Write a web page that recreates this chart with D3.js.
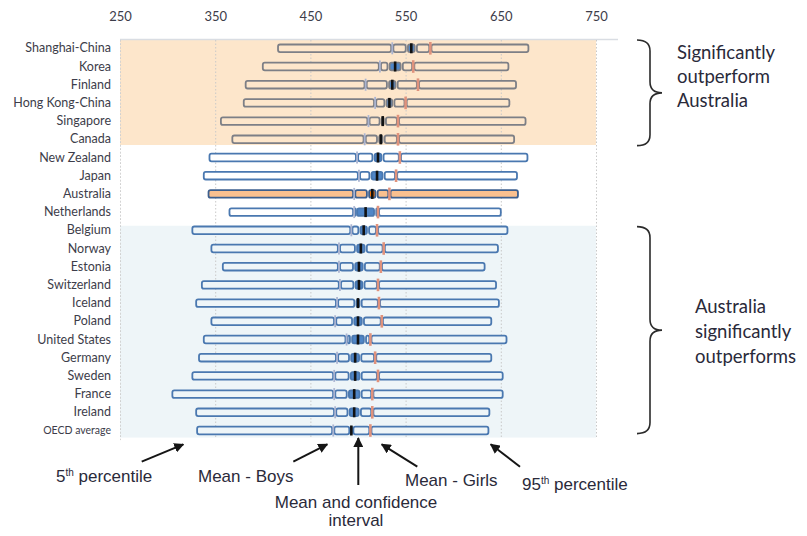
<!DOCTYPE html>
<html>
<head>
<meta charset="utf-8">
<script src="https://cdn.jsdelivr.net/npm/d3@7"></script>
<style>
  html, body { margin: 0; padding: 0; background: #ffffff; }
  svg { display: block; }
</style>
</head>
<body>
<svg id="chart" width="807" height="536"></svg>
<script>
// ---------------- DATA ----------------
const countries = ["Shanghai-China","Korea","Finland","Hong Kong-China","Singapore","Canada",
  "New Zealand","Japan","Australia","Netherlands","Belgium","Norway","Estonia","Switzerland",
  "Iceland","Poland","United States","Germany","Sweden","France","Ireland","OECD average"];
const groups = ["above","above","above","above","above","above",
  "similar","similar","similar","similar",
  "below","below","below","below","below","below","below","below","below","below","below","below"];
const meanScore = [556,539,536,533,526,524,521,520,515,508,506,503,501,501,500,500,500,497,497,496,496,493];
const ciHalf    = [4.7,6.9,4.5,4.1,2.2,2.9,4.7,6.9,4.5,10.0,4.5,5.1,5.1,4.7,2.7,5.1,7.3,5.3,5.7,6.7,5.9,1.0];
const meanBoys  = [536,523,508,518,511,507,499,501,496,496,493,480,480,481,478,476,488,478,475,475,476,474];
const meanGirls = [576,558,563,550,542,542,544,540,533,521,520,527,524,521,522,525,513,518,521,515,515,513];
const pct5      = [416,400,382,380,356,368,344,338,343,365,326,346,358,336,330,346,338,333,326,305,330,331];
const pct95     = [679,658,666,659,676,664,678,667,668,650,657,647,633,645,648,640,656,640,652,652,638,637];
const tickValues = [250,350,450,550,650,750];
const bracketLabels = [
  { lines: ["Significantly","outperform","Australia"], from: "Shanghai-China", to: "Canada" },
  { lines: ["Australia","significantly","outperforms"], from: "Belgium", to: "OECD average" }
];
const annotations = [
  { parts: [["5",""],["th","sup"],[" percentile",""]], x: 56, y: 482, anchor: "start", ax1: 141.7, ay1: 461.7, ax2: 183.3, ay2: 444.3 },
  { parts: [["Mean - Boys",""]], x: 198, y: 482, anchor: "start", ax1: 293.3, ay1: 461.7, ax2: 327.3, ay2: 444.3 },
  { parts: [["Mean and confidence",""]], x: 356, y: 508, anchor: "middle", ax1: 358.3, ay1: 485, ax2: 358.3, ay2: 438 },
  { parts: [["interval",""]], x: 356, y: 526, anchor: "middle" },
  { parts: [["Mean - Girls",""]], x: 405, y: 486, anchor: "start", ax1: 417.3, ay1: 466.7, ax2: 381.7, ay2: 444.3 },
  { parts: [["95",""],["th","sup"],[" percentile",""]], x: 522, y: 490, anchor: "start", ax1: 520, ay1: 466.7, ax2: 490.7, ay2: 444.3 }
];

// ---------------- LAYOUT ----------------
const svg = d3.select("#chart");
const x = d3.scaleLinear().domain([250, 750]).range([120, 596]);
const y = d3.scaleBand().domain(countries).range([39.2, 439.6]).padding(0);
const bw = y.bandwidth();
const cy = c => y(c) + bw / 2;

const rows = countries.map((c, i) => ({
  name: c, group: groups[i], mean: meanScore[i], lo: meanScore[i] - ciHalf[i], hi: meanScore[i] + ciHalf[i],
  boys: meanBoys[i], girls: meanGirls[i], p5: pct5[i], p95: pct95[i]
}));

const bgColor = { above: "#fde6cb", similar: "#ffffff", below: "#eef5f8" };
const strokeColor = { above: "#7d7f86", similar: "#4a78b0", below: "#4a78b0" };

// backgrounds
svg.append("rect").attr("x", x(250)).attr("width", x(750) - x(250))
  .attr("y", y("Shanghai-China") + 0.05).attr("height", y("Canada") + bw * 0.81 - y("Shanghai-China"))
  .attr("fill", bgColor.above);
svg.append("rect").attr("x", x(250)).attr("width", x(750) - x(250))
  .attr("y", y("Belgium") + bw * 0.25).attr("height", y("OECD average") + bw - 2 - (y("Belgium") + bw * 0.25))
  .attr("fill", bgColor.below);

// top line of plot area
svg.append("line").attr("x1", x(250)).attr("x2", 618).attr("y1", 39.5).attr("y2", 39.5)
  .attr("stroke", "#d9dde3").attr("stroke-width", 1.5);

// gridlines
svg.append("g").selectAll("line").data(tickValues).join("line")
  .attr("x1", d => x(d) + 0.5).attr("x2", d => x(d) + 0.5)
  .attr("y1", 40).attr("y2", 439)
  .attr("stroke", "#c9c9c9").attr("stroke-width", 1).attr("stroke-dasharray", "1.5,2");

// top axis
const xAxis = svg.append("g").attr("transform", "translate(0,39)")
  .call(d3.axisTop(x).tickValues(tickValues).tickSize(0).tickPadding(18).tickFormat(d3.format("d")));
xAxis.select(".domain").remove();
xAxis.selectAll("text").attr("font-family", "Lato, 'Open Sans', sans-serif").attr("font-size", 13)
  .attr("fill", "#3d3d4a");

// left axis (category labels)
const yAxis = svg.append("g").attr("transform", "translate(120,0)")
  .call(d3.axisLeft(y).tickSize(0).tickPadding(9));
yAxis.select(".domain").attr("stroke", "#d4d4d4").attr("stroke-dasharray", "1.5,2");
yAxis.selectAll("text").attr("font-family", "Lato, 'Open Sans', sans-serif")
  .attr("font-size", d => d === "OECD average" ? 10.5 : 12.5)
  .attr("fill", "#3d3d4a");

// bars
const barH = 7.6;
const rowG = svg.append("g").selectAll("g").data(rows).join("g");

rowG.each(function (d) {
  const g = d3.select(this);
  const isAus = d.name === "Australia";
  const fill = isAus ? "#fac08f" : bgColor[d.group];
  const stroke = isAus ? "#3d5f8e" : strokeColor[d.group];
  const ciFill = isAus ? "#e8700e" : "#4f86c8";
  const segs = [
    { a: d.p5, b: d.boys, f: fill },
    { a: d.boys, b: d.lo, f: fill },
    { a: d.lo, b: d.hi, f: ciFill },
    { a: d.hi, b: d.girls, f: fill },
    { a: d.girls, b: d.p95, f: fill }
  ];
  const yc = cy(d.name);
  g.selectAll("rect.seg").data(segs).join("rect").attr("class", "seg")
    .attr("x", (s, i) => x(s.a) + (i === 0 ? 0 : 1.1))
    .attr("width", (s, i) => Math.max(0.6, x(s.b) - x(s.a) - (i === 0 ? 0 : 1.1) - (i === segs.length - 1 ? 0 : 1.1)))
    .attr("y", yc - barH / 2).attr("height", barH)
    .attr("rx", 2).attr("ry", 2)
    .attr("fill", s => s.f).attr("stroke", stroke).attr("stroke-width", 1.8);
  // boys marker
  g.append("line").attr("x1", x(d.boys)).attr("x2", x(d.boys))
    .attr("y1", yc - 6).attr("y2", yc + 6)
    .attr("stroke", "#a9b3d0").attr("stroke-width", 1.8);
  // girls marker
  g.append("line").attr("x1", x(d.girls)).attr("x2", x(d.girls))
    .attr("y1", yc - 6.3).attr("y2", yc + 6.3)
    .attr("stroke", "#e0927c").attr("stroke-width", 2.6);
  // mean marker
  g.append("line").attr("x1", x(d.mean)).attr("x2", x(d.mean))
    .attr("y1", yc - 5).attr("y2", yc + 5)
    .attr("stroke", "#111111").attr("stroke-width", 2.6);
});

// braces
function bracePath(x0, xs, xt, y0, y1, ym) {
  const r = 11;
  return `M${x0},${y0} Q${xs},${y0} ${xs},${y0 + r} L${xs},${ym - r} Q${xs},${ym} ${xt},${ym} ` +
         `Q${xs},${ym} ${xs},${ym + r} L${xs},${y1 - r} Q${xs},${y1} ${x0},${y1}`;
}
const braceSpecs = [
  { y0: y("Shanghai-China") + 0.8, y1: y("Canada") + bw * 0.85, tx: 677, base: 58.5, gap: 24.3 },
  { y0: y("Belgium") + bw * 0.3, y1: y("OECD average") + bw - 6, tx: 695, base: 313, gap: 24.8 }
];
bracketLabels.forEach((b, i) => {
  const s = braceSpecs[i];
  const ym = (s.y0 + s.y1) / 2;
  svg.append("path").attr("d", bracePath(637, 650, 662, s.y0, s.y1, ym))
    .attr("fill", "none").attr("stroke", "#2b2b2b").attr("stroke-width", 1.6);
  const t = svg.append("text").attr("font-family", "Lato, 'Open Sans', sans-serif")
    .attr("font-size", 18.5).attr("fill", "#2a2a3a");
  b.lines.forEach((ln, j) => {
    t.append("tspan").attr("x", s.tx).attr("y", s.base + j * s.gap).text(ln);
  });
});

// annotations
const defs = svg.append("defs");
defs.append("marker").attr("id", "ah").attr("viewBox", "0 0 10 10")
  .attr("refX", 9).attr("refY", 5).attr("markerWidth", 5).attr("markerHeight", 5)
  .attr("orient", "auto").attr("markerUnits", "strokeWidth")
  .append("path").attr("d", "M0,0 L10,5 L0,10 z").attr("fill", "#151515");

annotations.forEach(a => {
  if (a.ax1 !== undefined) {
    svg.append("line").attr("x1", a.ax1).attr("y1", a.ay1).attr("x2", a.ax2).attr("y2", a.ay2)
      .attr("stroke", "#151515").attr("stroke-width", 2).attr("marker-end", "url(#ah)");
  }
  const t = svg.append("text").attr("x", a.x).attr("y", a.y).attr("text-anchor", a.anchor)
    .attr("font-family", "'Liberation Sans', Arial, sans-serif").attr("font-size", 17)
    .attr("fill", "#2a2a3a");
  a.parts.forEach(p => {
    const ts = t.append("tspan").text(p[0]);
    if (p[1] === "sup") ts.attr("font-size", 10).attr("baseline-shift", "6");
  });
});
</script>
</body>
</html>
